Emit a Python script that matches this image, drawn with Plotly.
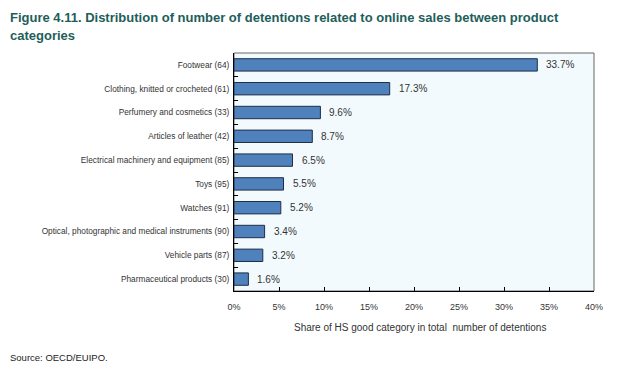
import plotly.graph_objects as go

categories = [
    "Footwear (64)",
    "Clothing, knitted or crocheted (61)",
    "Perfumery and cosmetics (33)",
    "Articles of leather (42)",
    "Electrical machinery and equipment (85)",
    "Toys (95)",
    "Watches (91)",
    "Optical, photographic and medical instruments (90)",
    "Vehicle parts (87)",
    "Pharmaceutical products (30)",
]
shares = [33.7, 17.3, 9.6, 8.7, 6.5, 5.5, 5.2, 3.4, 3.2, 1.6]
x_ticks = [0, 5, 10, 15, 20, 25, 30, 35, 40]
x_tick_labels = [f"{v}%" for v in x_ticks]

W, H = 619, 373
ML, MR, MT, MB = 226, 33, 45, 90
PW, PH = W - ML - MR, H - MT - MB


def px(xp):
    return (xp - ML) / PW


def py(yp):
    return (H - MB - yp) / PH


fig = go.Figure(go.Bar(
    x=shares,
    y=categories,
    orientation="h",
    marker=dict(color="#4F81BD", line=dict(color="#1F2F45", width=1)),
))

annotations = [
    dict(x=v, y=c, xref="x", yref="y", text=f"{v:.1f}%", showarrow=False,
         xanchor="left", yanchor="middle", xshift=7,
         font=dict(family="Liberation Sans, Arial", size=10, color="#333333"))
    for c, v in zip(categories, shares)
]
annotations += [
    dict(text="<b>Figure 4.11. Distribution of number of detentions related to online sales between product</b>",
         x=px(0), y=py(9), xref="paper", yref="paper", showarrow=False,
         xanchor="left", yanchor="middle",
         font=dict(family="Liberation Sans, Arial", size=13, color="#1E5E5A")),
    dict(text="<b>categories</b>",
         x=px(0), y=py(27), xref="paper", yref="paper", showarrow=False,
         xanchor="left", yanchor="middle",
         font=dict(family="Liberation Sans, Arial", size=13, color="#1E5E5A")),
    dict(text="Share of HS good category in total  number of detentions",
         x=px(ML + PW / 2 + 6), y=py(319), xref="paper", yref="paper", showarrow=False,
         xanchor="center", yanchor="middle",
         font=dict(family="Liberation Sans, Arial", size=10, color="#333333")),
    dict(text="Source: OECD/EUIPO.",
         x=px(0), y=py(349), xref="paper", yref="paper", showarrow=False,
         xanchor="left", yanchor="middle",
         font=dict(family="Liberation Sans, Arial", size=9.5, color="#222222")),
]

fig.update_layout(
    width=W, height=H,
    margin=dict(l=ML, r=MR, t=MT, b=MB),
    paper_bgcolor="white",
    plot_bgcolor="#F3FAFE",
    bargap=0.48,
    showlegend=False,
    font=dict(family="Liberation Sans, Arial", size=8.5, color="#333333"),
    xaxis=dict(
        range=[0, 40], tickvals=x_ticks, ticktext=x_tick_labels,
        ticks="inside", ticklen=4, tickcolor="#000000",
        showgrid=False, zeroline=False,
        showline=True, linecolor="#000000", linewidth=1, mirror=False,
        tickfont=dict(size=9, color="#333333"),
        ticklabelstandoff=7,
    ),
    yaxis=dict(
        autorange="reversed",
        ticks="inside", ticklen=4, tickcolor="#000000", tickson="boundaries",
        showgrid=False, zeroline=False,
        showline=True, linecolor="#000000", linewidth=1, mirror=False,
        tickfont=dict(size=8.3, color="#333333"),
        ticklabelstandoff=2,
    ),
    shapes=[dict(type="rect", xref="paper", yref="paper", x0=0, y0=0, x1=1, y1=1,
                 line=dict(color="#666666", width=1), layer="below")],
    annotations=annotations,
)

fig.write_html("out.html")
